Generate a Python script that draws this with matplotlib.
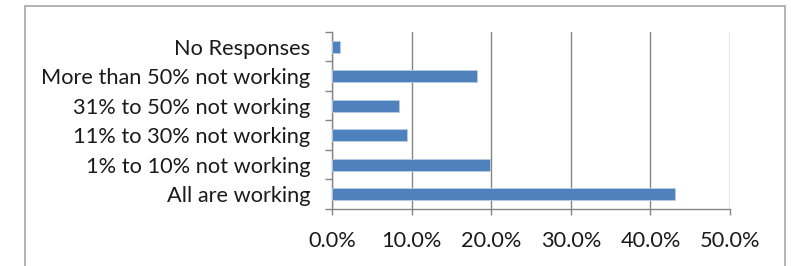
import matplotlib.pyplot as plt
from matplotlib.patches import Rectangle
from matplotlib.ticker import FuncFormatter, FixedLocator

plt.rcParams['font.family'] = ['Lato', 'DejaVu Sans']

# 資料
categories = ['All are working', '1% to 10% not working', '11% to 30% not working',
              '31% to 50% not working', 'More than 50% not working', 'No Responses']
values = [43.1, 19.8, 9.4, 8.35, 18.2, 1.0]

fig = plt.figure(figsize=(7.91, 2.66), dpi=100)
ax = fig.add_axes([0.4201, 0.2143, 0.5028, 0.6654])

# 外框
fig.patches.append(Rectangle((24.5/791, -0.05), (785-24.5)/791, 1.05 - 5.5/266,
                             transform=fig.transFigure, fill=False,
                             edgecolor='#a6a6a6', linewidth=1.2))

ax.barh(range(len(categories)), values, height=0.4, color='#4f81bd',
        edgecolor='#b9cde5', linewidth=0.6, zorder=3)

ax.set_xlim(0, 50)
ax.set_ylim(-0.5, len(categories) - 0.5)
ax.set_xticks([0, 10, 20, 30, 40, 50])
ax.xaxis.set_major_formatter(FuncFormatter(lambda v, p: '%.1f%%' % v))
ax.set_yticks(range(len(categories)))
ax.set_yticklabels(categories)
ax.yaxis.set_minor_locator(FixedLocator([i - 0.5 for i in range(len(categories) + 1)]))

ax.grid(axis='x', color='#868686', linewidth=1.0, zorder=0)
for s in ['top', 'right']:
    ax.spines[s].set_visible(False)
for s in ['left', 'bottom']:
    ax.spines[s].set_color('#868686')
    ax.spines[s].set_linewidth(1.0)

ax.tick_params(axis='y', which='major', length=0, pad=16, labelsize=15.7, labelcolor='#1a1a1a')
ax.tick_params(axis='y', which='minor', length=5, color='#868686', width=1.0)
ax.tick_params(axis='x', length=4, color='#868686', width=1.0, pad=12, labelsize=15.7, labelcolor='#1a1a1a')

fig.savefig('out.png', dpi=100)
